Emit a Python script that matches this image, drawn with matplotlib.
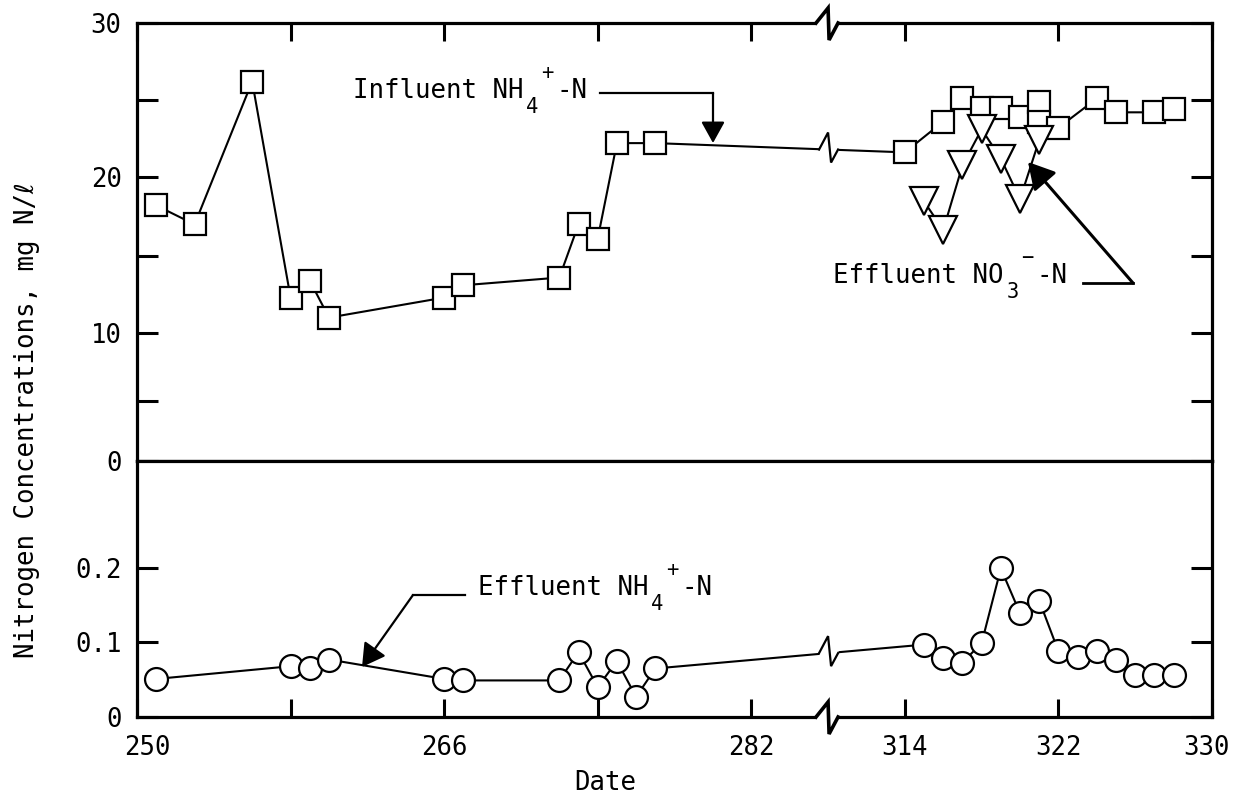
import numpy as np
import matplotlib
matplotlib.use("Agg")
import matplotlib.pyplot as plt
from matplotlib.transforms import IdentityTransform, ScaledTranslation
from matplotlib.lines import Line2D

# ---------------- data ----------------
influent_day = [251, 253, 256, 258, 259, 260, 266, 267, 272, 273, 274, 275, 277,
                314, 316, 317, 318, 319, 320, 321, 321, 322, 324, 325, 327, 328]
influent_nh4 = [18.2, 17.0, 26.2, 12.3, 13.4, 11.0, 12.3, 13.1, 13.6, 17.0, 16.1, 22.2, 22.2,
                21.6, 23.6, 25.1, 24.5, 24.5, 23.9, 24.9, 23.6, 23.2, 25.1, 24.2, 24.2, 24.4]

no3_day = [315, 316, 317, 318, 319, 320, 321]
effluent_no3 = [18.45, 16.65, 20.75, 23.1, 21.2, 18.6, 22.4]

eff_nh4_day = [251, 258, 259, 260, 266, 267, 272, 273, 274, 275, 276, 277,
               315, 316, 317, 318, 319, 320, 321, 322, 323, 324, 325, 326, 327, 328]
effluent_nh4 = [0.051, 0.068, 0.065, 0.077, 0.051, 0.049, 0.049, 0.087, 0.040, 0.075, 0.027, 0.065,
                0.097, 0.079, 0.073, 0.099, 0.199, 0.139, 0.156, 0.088, 0.080, 0.089, 0.077,
                0.056, 0.056, 0.056]

x_ticks = [250, 258, 266, 274, 282, 314, 322, 330]
x_ticklabels = ["250", "", "266", "", "282", "314", "322", "330"]
upper_ticks = [0, 5, 10, 15, 20, 25, 30]
upper_ticklabels = ["0", "", "10", "", "20", "", "30"]
lower_ticks = [0, 0.1, 0.2]
lower_ticklabels = ["0", "0.1", "0.2"]

# ---------------- style ----------------
FONT = ["DejaVu Sans Mono", "DejaVu Sans"]
plt.rcParams["font.family"] = FONT
FS = 18.5

W, H = 1237, 799
fig = plt.figure(figsize=(W / 100, H / 100), dpi=100)

# broken time axis: 286 .. 310 collapsed
GAP_LO, GAP_HI = 286.0, 310.0


def x_fwd(x):
    x = np.asarray(x, dtype=float)
    return np.where(x <= GAP_LO, x, np.where(x >= GAP_HI, x - (GAP_HI - GAP_LO), GAP_LO))


def x_inv(p):
    p = np.asarray(p, dtype=float)
    return np.where(p <= GAP_LO, p, p + (GAP_HI - GAP_LO))


# hand-drawn (slightly uneven) upper concentration axis
UP_VALS = np.array([0, 5, 10, 15, 20, 25, 30], dtype=float)
UP_POS = np.array([0, 60, 128, 205, 284, 361, 438], dtype=float)


def y_fwd(v):
    v = np.asarray(v, dtype=float)
    return np.interp(v, UP_VALS, UP_POS, left=-1e3, right=1e3)


def y_inv(p):
    p = np.asarray(p, dtype=float)
    return np.interp(p, UP_POS, UP_VALS)


ax1 = fig.add_axes([137 / W, 1 - 461 / H, (1212 - 137) / W, (461 - 23) / H])
ax2 = fig.add_axes([137 / W, 1 - 717 / H, (1212 - 137) / W, (717 - 461) / H])

for ax in (ax1, ax2):
    ax.set_xscale("function", functions=(x_fwd, x_inv))
    ax.set_xlim(250, 330)
    for s in ax.spines.values():
        s.set_linewidth(2.3)
    ax.set_xticks(x_ticks)

ax1.set_yscale("function", functions=(y_fwd, y_inv))
ax1.set_ylim(0, 30)
ax2.set_ylim(0, 0.343)

LW = 1.5
MEW = 1.6
ax1.plot(influent_day, influent_nh4, color="black", lw=LW, marker="s", ms=15.5,
         mfc="white", mec="black", mew=MEW, zorder=3, clip_on=False)
ax1.plot(no3_day, effluent_no3, color="black", lw=LW, marker="v", ms=20,
         mfc="white", mec="black", mew=MEW, zorder=4, clip_on=False)
ax2.plot(eff_nh4_day, effluent_nh4, color="black", lw=LW, marker="o", ms=16.5,
         mfc="white", mec="black", mew=MEW, zorder=3, clip_on=False)

# ticks
ax1.tick_params(axis="x", which="both", direction="in", top=True, bottom=False,
                labelbottom=False, labeltop=False, length=13, width=2.2)
ax1.set_yticks(upper_ticks)
ax1.set_yticklabels(upper_ticklabels)
ax1.tick_params(axis="y", direction="in", left=True, right=True, length=15, width=2.2,
                labelsize=FS, pad=11)
ax2.set_xticklabels(x_ticklabels)
ax2.tick_params(axis="x", direction="in", top=False, bottom=True, length=13, width=2.2,
                labelsize=FS, pad=13)
ax2.set_yticks(lower_ticks)
ax2.set_yticklabels(lower_ticklabels)
ax2.tick_params(axis="y", direction="in", left=True, right=True, length=15, width=2.2,
                labelsize=FS, pad=11)
for lab in ax2.get_xticklabels():
    if lab.get_text() == "250":
        lab.set_transform(lab.get_transform() + ScaledTranslation(10 / 100, 0, fig.dpi_scale_trans))
    if lab.get_text() == "330":
        lab.set_transform(lab.get_transform() + ScaledTranslation(-5 / 100, 0, fig.dpi_scale_trans))

# ---------------- break marks ----------------
def zigzag(cx, cy, shape, cover=True, lw=2.0):
    xs = np.array([p[0] for p in shape]) + cx
    ys = np.array([p[1] for p in shape]) + cy
    if cover:
        fig.add_artist(Line2D([xs[0], xs[-1]], [cy, cy], transform=IdentityTransform(),
                              color="white", lw=5, zorder=5, solid_capstyle="butt"))
    fig.add_artist(Line2D(xs, ys, transform=IdentityTransform(), color="black", lw=lw,
                          zorder=6, solid_joinstyle="miter"))


SPINE_Z = [(-12, 0), (0, 15), (1, -17), (10, 0)]
LINE_Z = [(-9, 0), (0, 17), (3, -13), (10, 0)]

bx = ax1.transData.transform((GAP_LO, 15))[0]
top_y = ax1.transAxes.transform((0, 1))[1]
bot_y = ax2.transAxes.transform((0, 0))[1]
zigzag(bx, top_y, SPINE_Z, lw=2.6)
zigzag(bx, bot_y, SPINE_Z, lw=2.6)

for ax, xs, ys in ((ax1, influent_day, influent_nh4), (ax2, eff_nh4_day, effluent_nh4)):
    pts = ax.transData.transform(np.column_stack([xs, ys]))
    cy = np.interp(bx, pts[:, 0], pts[:, 1])
    zigzag(bx, cy, LINE_Z, lw=1.6)

# ---------------- annotations ----------------
def fy(y):
    return H - y


CW = 0.602 * FS * 100 / 72  # monospace advance in px


def species(x0, ybase, main, sub, sup, tail):
    """Typewriter-style label with a large, deep subscript and superscript."""
    fig.text(x0 / W, 1 - ybase / H, main, fontsize=FS, ha="left", va="baseline")
    n = len(main)
    fig.text((x0 + (n + 0.2) * CW) / W, 1 - (ybase + 15) / H, sub, fontsize=FS * 0.8,
             ha="left", va="baseline")
    fig.text((x0 + (n + 1.15) * CW) / W, 1 - (ybase - 19) / H, sup, fontsize=FS * 0.8,
             ha="left", va="baseline")
    fig.text((x0 + (n + 2.15) * CW) / W, 1 - ybase / H, tail, fontsize=FS, ha="left",
             va="baseline")


species(353, 98, "Influent NH", "4", "+", "-N")
fig.add_artist(Line2D([600, 713], [fy(93), fy(93)],
                      transform=IdentityTransform(), color="black", lw=1.6))
ax1.annotate("", xy=(713, fy(143)), xycoords="figure pixels",
             xytext=(713, fy(93)), textcoords="figure pixels",
             arrowprops=dict(arrowstyle="-|>,head_length=0.65,head_width=0.36",
                             mutation_scale=20, color="black", lw=1.6, shrinkA=0, shrinkB=0))

species(833, 283, "Effluent NO", "3", "\u2212", "-N")
fig.add_artist(Line2D([1083, 1133], [fy(283), fy(283)], transform=IdentityTransform(),
                      color="black", lw=2.0))
ax1.annotate("", xy=(1028, fy(162)), xycoords="figure pixels",
             xytext=(1133, fy(283)), textcoords="figure pixels",
             arrowprops=dict(arrowstyle="-|>,head_length=0.8,head_width=0.45",
                             mutation_scale=20, color="black", lw=2.2, shrinkA=0, shrinkB=0))

species(478, 595, "Effluent NH", "4", "+", "-N")
fig.add_artist(Line2D([465, 413], [fy(595), fy(595)], transform=IdentityTransform(),
                      color="black", lw=1.6))
ax2.annotate("", xy=(362, fy(667)), xycoords="figure pixels",
             xytext=(413, fy(595)), textcoords="figure pixels",
             arrowprops=dict(arrowstyle="-|>,head_length=0.7,head_width=0.4",
                             mutation_scale=20, color="black", lw=1.6, shrinkA=0, shrinkB=0))

# axis labels
fig.text(27 / W, 1 - 420 / H, "Nitrogen Concentrations, mg N/\u2113", fontsize=FS, rotation=90,
         ha="center", va="center", family=FONT)
fig.text(605 / W, 1 - 790 / H, "Date", fontsize=FS, ha="center", va="baseline")

fig.savefig("out.png", dpi=100, facecolor="white")
